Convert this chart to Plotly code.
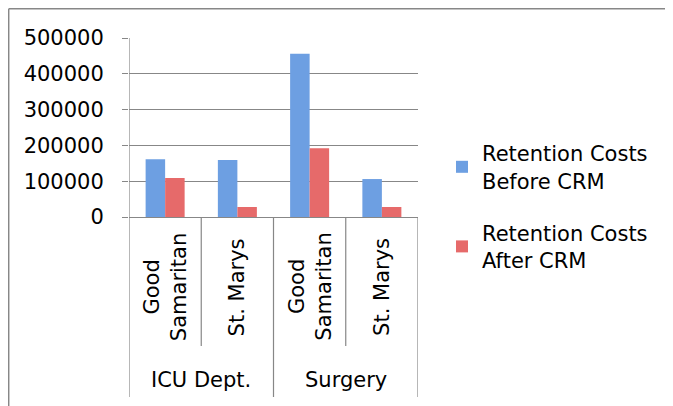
import plotly.graph_objects as go

# ---- data ----
hospitals = ["Good<br>Samaritan", "St. Marys", "Good<br>Samaritan", "St. Marys"]
departments = ["ICU Dept.", "Surgery"]
cat_keys = ["ICU-GS", "ICU-SM", "SUR-GS", "SUR-SM"]
before_crm = [161000, 159000, 456000, 106000]
after_crm = [109000, 28000, 192000, 28000]
series_names = ["Retention Costs<br>Before CRM", "Retention Costs<br>After CRM"]
y_ticks = [0, 100000, 200000, 300000, 400000, 500000]

FONT = "DejaVu Sans"
FS = 21
GRAY = "#878787"

# page has an 8px body margin: work in page pixels, convert to figure pixels
OFF = 8
W, H = 673 - OFF, 406 - OFF
PL, PR, PT, PB = 129, 418, 38, 217          # plot area in page pixels
L, T = PL - OFF, PT - OFF
R, B = W - (PR - OFF), H - (PB - OFF)
pw, ph = W - L - R, H - T - B


def px_x(px):
    return (px - OFF - L) / pw


def px_y(py):
    return (H - B - (py - OFF)) / ph


fig = go.Figure()
fig.add_trace(go.Bar(x=cat_keys, y=before_crm, name=series_names[0],
                     marker=dict(color="#6d9fe2", line=dict(width=0)),
                     legendgroup="a"))
fig.add_trace(go.Bar(x=cat_keys, y=after_crm, name=series_names[1],
                     marker=dict(color="#e66a6a", line=dict(width=0)),
                     legendgroup="b"))

shapes = []
# outer frame (top and left visible)
shapes.append(dict(type="line", xref="paper", yref="paper",
                   x0=px_x(8.7), x1=px_x(700), y0=px_y(8.7), y1=px_y(8.7),
                   line=dict(color=GRAY, width=1.5)))
shapes.append(dict(type="line", xref="paper", yref="paper",
                   x0=px_x(8.7), x1=px_x(8.7), y0=px_y(8.7), y1=px_y(420),
                   line=dict(color=GRAY, width=1.5)))
# category dividers
for i in range(len(cat_keys) + 1):
    xpos = i - 0.5
    bottom = px_y(397) if i % 2 == 0 else px_y(346)
    top = 1 if i == 0 else 0
    shapes.append(dict(type="line", xref="x", yref="paper",
                       x0=xpos, x1=xpos, y0=top, y1=bottom,
                       line=dict(color=GRAY, width=1.2)))

annotations = []
for i, lab in enumerate(hospitals):
    annotations.append(dict(x=i, xref="x", y=px_y(287), yref="paper",
                            text=lab, textangle=-90, showarrow=False,
                            xanchor="center", yanchor="middle",
                            font=dict(family=FONT, size=FS, color="black")))
for j, dep in enumerate(departments):
    annotations.append(dict(x=2 * j + 0.5, xref="x", y=px_y(380), yref="paper",
                            text=dep, showarrow=False,
                            xanchor="center", yanchor="middle",
                            font=dict(family=FONT, size=FS, color="black")))

fig.update_layout(
    width=W, height=H,
    margin=dict(l=L, r=R, t=T, b=B, pad=0),
    paper_bgcolor="white", plot_bgcolor="white",
    barmode="group", bargap=0.46, bargroupgap=0,
    font=dict(family=FONT, size=FS, color="black"),
    showlegend=True,
    legend=dict(x=px_x(442), y=px_y(133), xanchor="left", yanchor="top",
                font=dict(family=FONT, size=FS, color="black"),
                tracegroupgap=22, bgcolor="rgba(0,0,0,0)",
                itemclick=False),
    xaxis=dict(type="category", showticklabels=False, showgrid=False,
               showline=True, linecolor=GRAY, linewidth=1.2, ticks="",
               range=[-0.5, 3.5], fixedrange=True),
    yaxis=dict(range=[0, 500000], tickvals=y_ticks,
               ticktext=[str(v) for v in y_ticks],
               showgrid=True, gridcolor=GRAY, gridwidth=1.2,
               showline=False, zeroline=False,
               ticks="outside", ticklen=6, tickcolor=GRAY, tickwidth=1.2,
               ticklabelstandoff=14,
               tickfont=dict(family=FONT, size=FS, color="black"),
               fixedrange=True),
    shapes=shapes,
    annotations=annotations,
)

fig.write_html("out.html")
